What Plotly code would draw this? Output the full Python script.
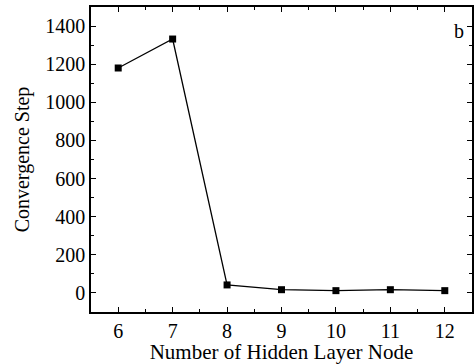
import plotly.graph_objects as go

nodes = [6, 7, 8, 9, 10, 11, 12]
steps = [1180, 1332, 42, 17, 12, 17, 12]
x_ticks = [6, 7, 8, 9, 10, 11, 12]
y_ticks = [0, 200, 400, 600, 800, 1000, 1200, 1400]

FONT = "Liberation Serif, Times New Roman, serif"

fig = go.Figure()
fig.add_trace(go.Scatter(
    x=nodes, y=steps, mode="lines+markers",
    line=dict(color="black", width=1.3),
    marker=dict(symbol="square", size=7, color="black"),
    showlegend=False,
))

axis_common = dict(
    showline=True, linecolor="black", linewidth=1.5, mirror="ticks",
    ticks="inside", ticklen=5, tickwidth=1.3, tickcolor="black",
    showgrid=False, zeroline=False,
    tickfont=dict(family=FONT, size=20, color="black"),
)

fig.update_xaxes(
    range=[5.5, 12.5], tickvals=x_ticks,
    minor=dict(ticks="inside", ticklen=3, tickwidth=1.2, tickcolor="black", dtick=0.5, tick0=5.5),
    title=dict(text="Number of Hidden Layer Node", font=dict(family=FONT, size=21, color="black"), standoff=0),
    **axis_common,
)
fig.update_yaxes(
    range=[-100, 1500], tickvals=y_ticks,
    minor=dict(ticks="inside", ticklen=3, tickwidth=1.2, tickcolor="black", dtick=100, tick0=0),
    title=dict(text="Convergence Step", font=dict(family=FONT, size=20, color="black"), standoff=10),
    **axis_common,
)

fig.add_annotation(
    x=0.985, y=0.965, xref="paper", yref="paper", text="b", showarrow=False,
    xanchor="right", yanchor="top", font=dict(family=FONT, size=20, color="black"),
)

fig.update_layout(
    width=476, height=364,
    margin=dict(l=91, r=2, t=7, b=52),
    plot_bgcolor="white", paper_bgcolor="white",
)

fig.write_html("out.html")
